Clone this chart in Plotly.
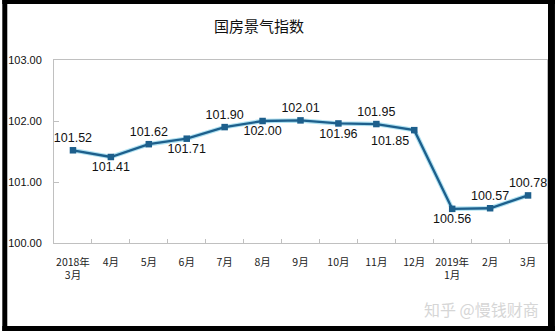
import plotly.graph_objects as go

title = "国房景气指数"
categories = ["2018年<br>3月", "4月", "5月", "6月", "7月", "8月", "9月", "10月",
              "11月", "12月", "2019年<br>1月", "2月", "3月"]
values = [101.52, 101.41, 101.62, 101.71, 101.90, 102.00, 102.01, 101.96,
          101.95, 101.85, 100.56, 100.57, 100.78]
label_pos = ["top center", "bottom center", "top center", "bottom center", "top center",
             "bottom center", "top center", "bottom center", "top center", "bottom left",
             "bottom center", "top center", "top center"]
y_ticks = [100, 101, 102, 103]
watermark = "知乎 @慢钱财商"

W, H = 556, 331
L, R, T, B = 52, 8, 60, 88
pw, ph = W - L - R, H - T - B

def px(x):
    return (x - L) / pw

def py(y):
    return (H - B - y) / ph

fig = go.Figure()
# soft glow under the line
fig.add_trace(go.Scatter(
    x=categories, y=values, mode="lines",
    line=dict(color="rgba(110,200,230,0.55)", width=4.5),
    hoverinfo="skip", showlegend=False))
fig.add_trace(go.Scatter(
    x=categories, y=values, mode="lines+markers+text",
    line=dict(color="#1d5f8c", width=2.3),
    marker=dict(symbol="square", size=6.5, color="#1d5f8c"),
    text=[f"{v:.2f}" for v in values], textposition=label_pos,
    textfont=dict(family="Liberation Sans, Arial", size=12.5, color="#111111"),
    showlegend=False))

shapes = []
black = "black"
for x0, y0, x1, y1 in [(0, 0, 5, H), (0, 0, W, 4), (549, 0, W, H), (0, 326, W, H)]:
    shapes.append(dict(type="rect", xref="paper", yref="paper",
                       x0=px(x0), x1=px(x1), y0=py(y1), y1=py(y0),
                       fillcolor=black, line=dict(width=0), layer="above"))

fig.update_layout(
    width=W, height=H,
    margin=dict(l=L, r=R, t=T, b=B),
    paper_bgcolor="white", plot_bgcolor="white",
    title=dict(text=title, xref="container", yref="container",
               x=259 / W, xanchor="center", y=1 - 27 / H, yanchor="middle",
               font=dict(family="Noto Sans CJK SC", size=15, color="#111111")),
    shapes=shapes,
    annotations=[dict(text=watermark, xref="paper", yref="paper",
                      x=px(482), y=py(309), xanchor="center", yanchor="middle",
                      showarrow=False,
                      font=dict(family="Noto Sans CJK SC", size=16, color="#d6d6d6"))],
)
fig.update_xaxes(
    type="category", showgrid=False, showline=True, mirror=True,
    linecolor="#c0c0c0", linewidth=1,
    ticks="inside", tickson="boundaries", ticklen=4, tickcolor="#c0c0c0",
    ticklabelstandoff=9, tickangle=0,
    tickfont=dict(family="Noto Sans CJK SC", size=10.5, color="#222222"),
    range=[-0.5, 12.5])
fig.update_yaxes(
    range=[100, 103], tickvals=y_ticks, tickformat=".2f",
    showgrid=False, showline=True, mirror=True, zeroline=False,
    linecolor="#c0c0c0", linewidth=1,
    ticks="inside", ticklen=5, tickcolor="#c0c0c0",
    ticklabelstandoff=9,
    tickfont=dict(family="Liberation Sans, Arial", size=11, color="#111111"))

fig.write_html("out.html")
